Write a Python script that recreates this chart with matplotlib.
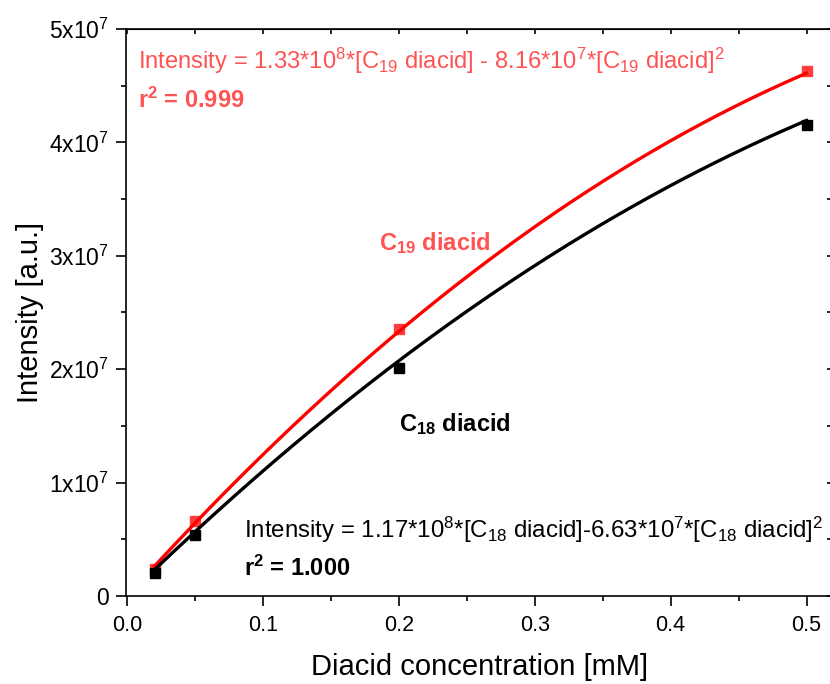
import numpy as np
import matplotlib
matplotlib.use('Agg')
import matplotlib.pyplot as plt

plt.rcParams['font.family'] = ['Liberation Sans', 'DejaVu Sans']
plt.rcParams['mathtext.fontset'] = 'custom'
plt.rcParams['mathtext.rm'] = 'Liberation Sans'
plt.rcParams['mathtext.it'] = 'Liberation Sans:italic'
plt.rcParams['mathtext.bf'] = 'Liberation Sans:bold'

# measured points
conc = [0.02, 0.05, 0.2, 0.5]
c19_intensity = [2.4e6, 6.6e6, 2.35e7, 4.63e7]
c18_intensity = [2.0e6, 5.4e6, 2.01e7, 4.15e7]

# fit coefficients from the annotations
c19_fit = [1.33e8, -8.16e7]
c18_fit = [1.17e8, -6.63e7]

y_ticks = [0, 1e7, 2e7, 3e7, 4e7, 5e7]
y_labels = ['0', r'1x10$^{7}$', r'2x10$^{7}$', r'3x10$^{7}$', r'4x10$^{7}$', r'5x10$^{7}$']
x_ticks = [0.0, 0.1, 0.2, 0.3, 0.4, 0.5]

RED_LINE = '#ff0000'
RED_TEXT = '#ff5252'

fig = plt.figure(figsize=(8.3, 6.84), dpi=100)
ax = fig.add_axes([0.1518, 0.1287, 0.851, 0.829])

xs = np.linspace(conc[0], conc[-1], 200)
ax.plot(xs, c19_fit[0] * xs + c19_fit[1] * xs**2, color=RED_LINE, lw=2.4, zorder=3)
ax.plot(xs, c18_fit[0] * xs + c18_fit[1] * xs**2, color='black', lw=2.4, zorder=3)
ax.plot(conc, c19_intensity, 's', color='#ff3c3c', ms=7.5, zorder=2)
ax.plot(conc, c18_intensity, 's', color='black', ms=7.5, zorder=2)

ax.set_xlim(-0.001, 0.519)
ax.set_ylim(0, 5e7)
ax.set_xticks(x_ticks)
ax.set_xticklabels(['%.1f' % v for v in x_ticks])
ax.set_xticks(np.arange(0.05, 0.5, 0.1), minor=True)
ax.set_yticks(y_ticks)
ax.set_yticklabels(y_labels)
ax.set_yticks(np.arange(0.5e7, 5e7, 1e7), minor=True)

ax.tick_params(axis='both', which='major', direction='out', length=7, width=1.2,
               top=False, right=False)
ax.tick_params(axis='x', which='major', pad=7, labelsize=15.5)
ax.tick_params(axis='y', which='major', pad=5, labelsize=16.5)
ax.tick_params(axis='both', which='minor', direction='out', length=3.5, width=1.2,
               top=False, right=False)
# mirrored short inward ticks on top and right
ax2 = ax.secondary_xaxis('top')
ax2.set_xticks(x_ticks)
ax2.set_xticks(np.arange(0.05, 0.5, 0.1), minor=True)
ax2.tick_params(which='both', direction='in', length=3.5, width=1.2, labeltop=False)
ax3 = ax.secondary_yaxis('right')
ax3.set_yticks(y_ticks)
ax3.set_yticks(np.arange(0.5e7, 5e7, 1e7), minor=True)
ax3.tick_params(which='both', direction='in', length=3.5, width=1.2, labelright=False)
for s in ax.spines.values():
    s.set_linewidth(1.2)

ax.set_xlabel('Diacid concentration [mM]', fontsize=21, labelpad=12)
ax.set_ylabel('Intensity [a.u.]', fontsize=21, labelpad=4)

ax.text(0.008, 4.72e7,
        r'Intensity = 1.33*10$^{8}$*[C$_{19}$ diacid] - 8.16*10$^{7}$*[C$_{19}$ diacid]$^{2}$',
        color=RED_TEXT, fontsize=17.1, va='center')
ax.text(0.008, 4.37e7, r'r$^{\mathbf{2}}$ = 0.999', color=RED_TEXT, fontsize=17,
        fontweight='bold', va='center')
ax.text(0.185, 3.11e7, r'$\mathbf{C_{19}}$ diacid', color=RED_TEXT, fontsize=17,
        fontweight='bold', va='center')
ax.text(0.2, 1.52e7, r'$\mathbf{C_{18}}$ diacid', color='black', fontsize=17,
        fontweight='bold', va='center')
ax.text(0.086, 5.8e6,
        r'Intensity = 1.17*10$^{8}$*[C$_{18}$ diacid]-6.63*10$^{7}$*[C$_{18}$ diacid]$^{2}$',
        color='black', fontsize=17.3, va='center')
ax.text(0.086, 2.45e6, r'r$^{\mathbf{2}}$ = 1.000', color='black', fontsize=17,
        fontweight='bold', va='center')

fig.savefig('out.png', dpi=100)
